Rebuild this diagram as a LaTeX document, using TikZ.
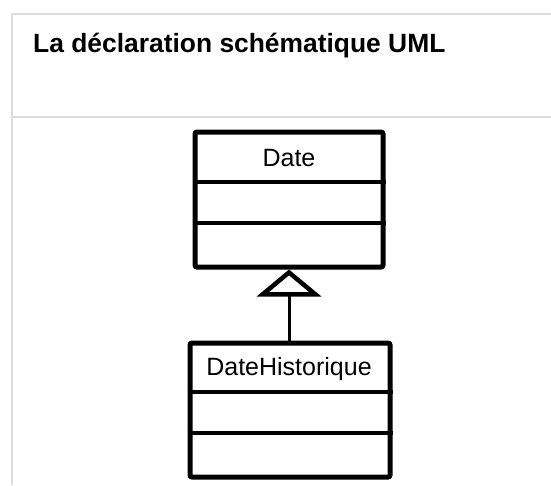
\documentclass[tikz,border=0pt]{standalone}
\usepackage{fontspec}
\setmainfont{Liberation Sans}
\usetikzlibrary{arrows.meta}
\definecolor{framegray}{HTML}{DCDCDC}
\begin{document}
\begin{tikzpicture}[x=1pt,y=-1pt,
  frameline/.style={draw=framegray,line width=1.5pt},
  classbox/.style={draw=black,line width=5pt,rounded corners=2pt,inner sep=0pt,fill=white},
  classtext/.style={font=\fontsize{25}{28}\selectfont,inner sep=0pt,anchor=center},
  sepline/.style={draw=black,line width=4pt},
  inherit/.style={draw=black,line width=3pt,-{Triangle[open,length=27pt,width=64pt,line width=4.5pt]}}]
\useasboundingbox (0,0) rectangle (551,485);
% frame
\draw[frameline] (12,485) -- (12,14) -- (551,14);
\draw[frameline] (12,117) -- (551,117);
\node[anchor=base west,inner sep=0pt,font=\bfseries\fontsize{26.4}{30}\selectfont] (title) at (33,52) {La déclaration schématique UML};
% Date class
\node[classbox,minimum width=188pt,minimum height=135pt] (date) at (289,199.5) {};
\draw[sepline] (date.west |- 0,182) -- (date.east |- 0,182);
\draw[sepline] (date.west |- 0,223) -- (date.east |- 0,223);
\node[classtext] (datet) at (289,158) {Date};
% DateHistorique class
\node[classbox,minimum width=200pt,minimum height=134pt] (dh) at (290,410) {};
\draw[sepline] (dh.west |- 0,392) -- (dh.east |- 0,392);
\draw[sepline] (dh.west |- 0,433) -- (dh.east |- 0,433);
\node[classtext] (dht) at (289,369) {DateHistorique};
% generalization
\draw[inherit] (dh.north -| 289,0) -- (date.south -| 289,0);
\end{tikzpicture}
\end{document}
